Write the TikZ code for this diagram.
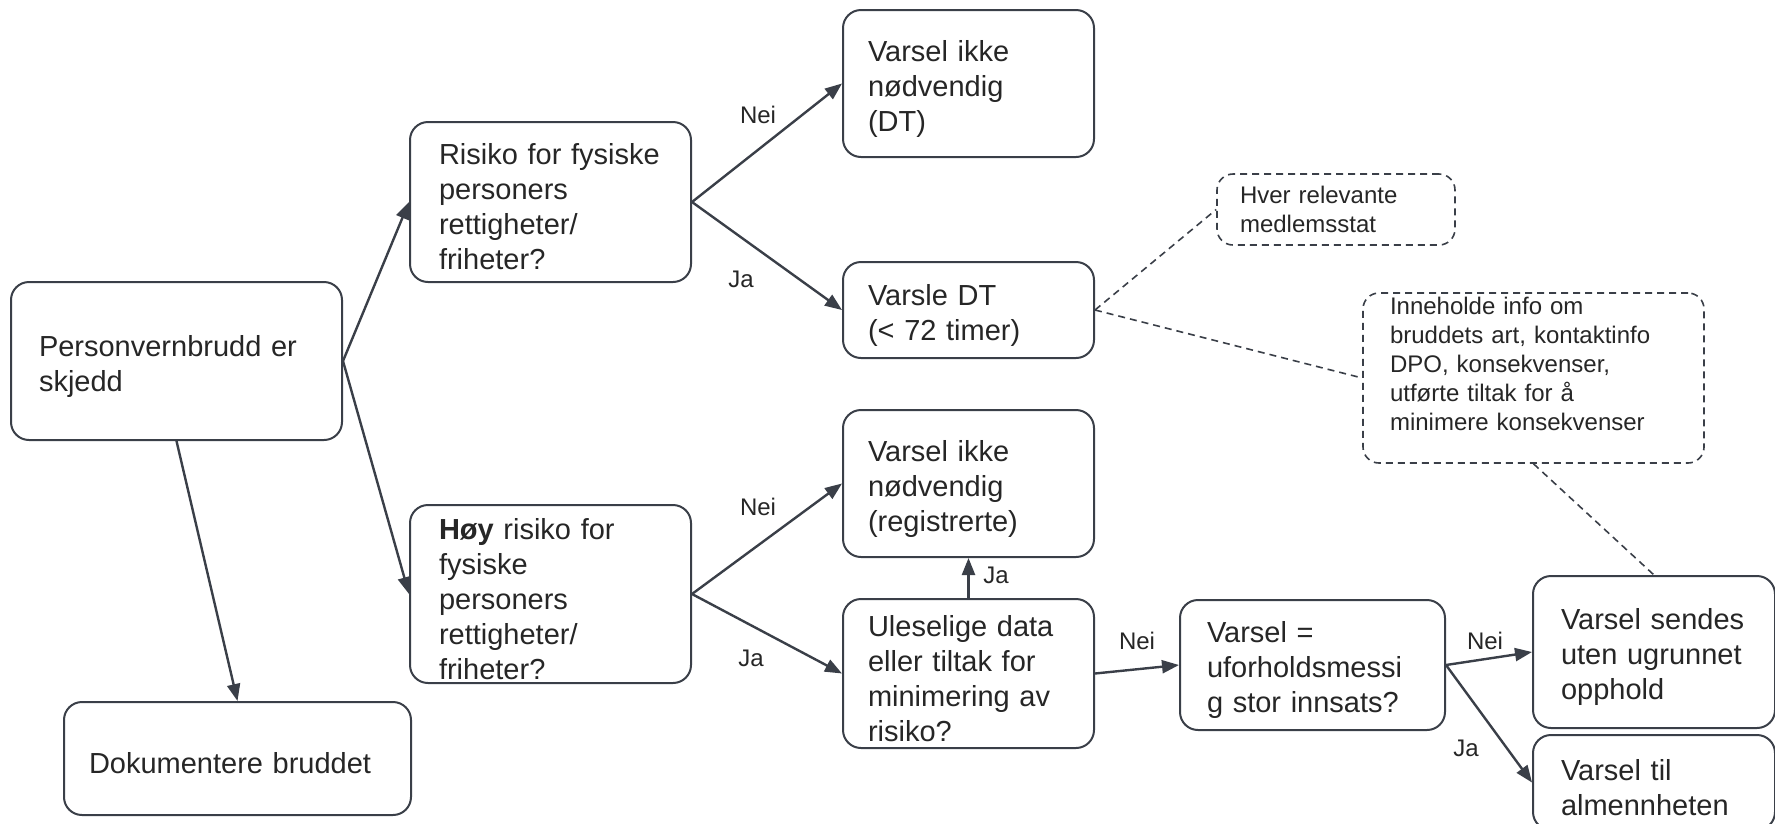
\documentclass[tikz,border=0pt]{standalone}
\usepackage{fontspec}
\setmainfont{Liberation Sans}
\usetikzlibrary{arrows.meta}
\definecolor{edge}{HTML}{3A3F48}
\definecolor{txt}{HTML}{262626}
\tikzset{
  box/.style={draw=edge, line width=2pt, rounded corners=18pt, inner ysep=0pt, align=left,
    text=txt, font=\fontsize{29}{35}\selectfont, execute at begin node={\rule{0pt}{31pt}}},
  note/.style={draw=edge, line width=1.6pt, dash pattern=on 7pt off 5pt, rounded corners=16pt,
    inner ysep=0pt, align=left, text=txt, font=\fontsize{24}{29}\selectfont},
  arr/.style={draw=edge, line width=2.4pt, -{Triangle[length=17pt,width=13pt]}},
  link/.style={draw=edge, line width=1.6pt, dash pattern=on 7pt off 5pt},
  lbl/.style={text=txt, font=\fontsize{24}{28}\selectfont, inner sep=0pt}
}
\begin{document}
\begin{tikzpicture}[x=1pt,y=-1pt]
\useasboundingbox (0,0) rectangle (1775,823);
% boxes
\node[box, minimum width=331pt, minimum height=158pt, inner xsep=28pt, text width=275pt] (pv) at (176.5,361) {Personvernbrudd er\\skjedd};
\node[box, minimum width=281pt, minimum height=160pt, inner xsep=29pt, text width=223pt] (risk) at (550.5,202) {Risiko for fysiske\\personers\\rettigheter/\\friheter?};
\node[box, minimum width=251pt, minimum height=147pt, inner xsep=25pt, text width=201pt] (vik1) at (968.5,83.5) {Varsel ikke\\nødvendig\\(DT)};
\node[box, minimum width=251pt, minimum height=96pt, inner xsep=25pt, text width=201pt] (vdt) at (968.5,310) {Varsle DT\\(< 72 timer)};
\node[note, minimum width=238pt, minimum height=71pt, inner xsep=23pt, text width=192pt] (hver) at (1336,209.5) {Hver relevante\\medlemsstat};
\node[note, minimum width=341pt, minimum height=170pt, inner xsep=27pt, text width=287pt, text depth=145pt] (inn) at (1533.5,378) {Inneholde info om\\bruddets art, kontaktinfo\\DPO, konsekvenser,\\utførte tiltak for å\\minimere konsekvenser};
\node[box, minimum width=251pt, minimum height=147pt, inner xsep=25pt, text width=201pt] (vik2) at (968.5,483.5) {Varsel ikke\\nødvendig\\(registrerte)};
\node[box, minimum width=281pt, minimum height=178pt, inner xsep=29pt, text width=223pt] (hoy) at (550.5,594) {\textbf{Høy} risiko for\\fysiske\\personers\\rettigheter/\\friheter?};
\node[box, minimum width=251pt, minimum height=149pt, inner xsep=25pt, text width=201pt] (ule) at (968.5,673.5) {Uleselige data\\eller tiltak for\\minimering av\\risiko?};
\node[box, minimum width=265pt, minimum height=130pt, inner xsep=27pt, text width=211pt] (ve) at (1312.5,665) {Varsel =\\uforholdsmessi\\g stor innsats?};
\node[box, minimum width=242pt, minimum height=152pt, inner xsep=28pt, text width=186pt] (vs) at (1654,652) {Varsel sendes\\uten ugrunnet\\opphold};
\node[box, minimum width=242pt, minimum height=95pt, inner xsep=28pt, text width=186pt] (vta) at (1654,782.5) {Varsel til\\almennheten};
\node[box, minimum width=347pt, minimum height=113pt, inner xsep=25pt, text width=297pt] (dok) at (237.5,758.5) {Dokumentere bruddet};
% arrows
\draw[arr] (pv.east) -- (risk.west);
\draw[arr] (pv.east) -- (hoy.west);
\draw[arr] (pv.south) -- (dok.north);
\draw[arr] (risk.east) -- (vik1.west);
\draw[arr] (risk.east) -- (vdt.west);
\draw[arr] (hoy.east) -- (vik2.west);
\draw[arr] (hoy.east) -- (ule.west);
\draw[arr] (ule.north) -- (vik2.south);
\draw[arr] (ule.east) -- (ve.west);
\draw[arr] (ve.east) -- (vs.west);
\draw[arr] (ve.east) -- (vta.west);
% dashed links
\draw[link] (vdt.east) -- (hver.west);
\draw[link] (vdt.east) -- (inn.west);
\draw[link] (inn.south) -- (vs.north);
% labels
\node[lbl] (l1) at (758,115) {Nei};
\node[lbl] (l2) at (741,279) {Ja};
\node[lbl] (l3) at (758,507) {Nei};
\node[lbl] (l4) at (751,658) {Ja};
\node[lbl] (l5) at (996,575) {Ja};
\node[lbl] (l6) at (1137,641) {Nei};
\node[lbl] (l7) at (1485,641) {Nei};
\node[lbl] (l8) at (1466,748) {Ja};
\end{tikzpicture}
\end{document}
